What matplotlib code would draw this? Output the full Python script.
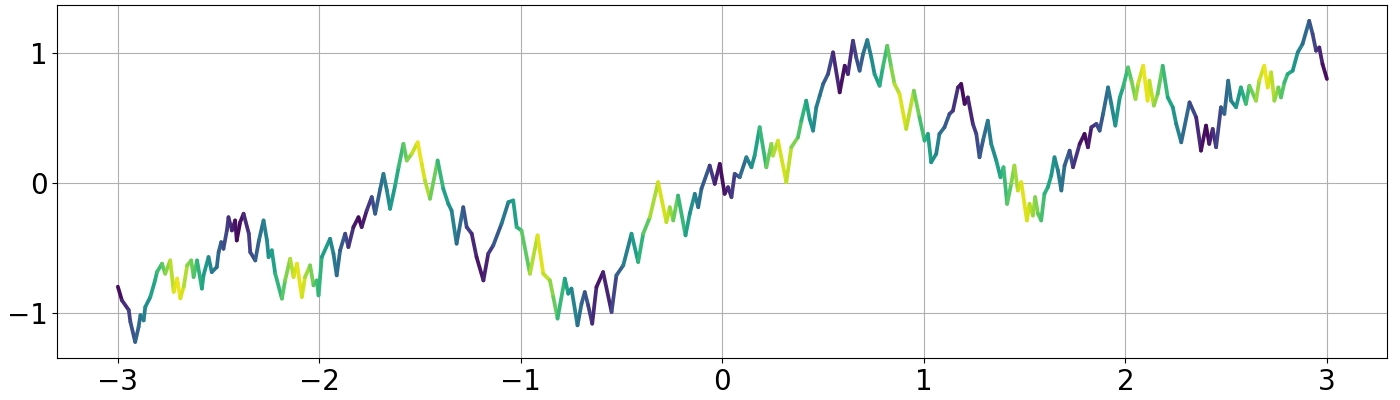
import numpy as np
import matplotlib
matplotlib.use("Agg")
from matplotlib import pyplot as plt
from matplotlib.collections import LineCollection

# curve points (x, y) and the viridis value seen at each point
xs = [-3.0, -2.98, -2.946, -2.938, -2.914, -2.897, -2.888, -2.872, -2.864, -2.839,
      -2.815, -2.806, -2.781, -2.765, -2.74, -2.723, -2.706, -2.69, -2.673, -2.656,
      -2.636, -2.624, -2.607, -2.583, -2.575, -2.55, -2.534, -2.509, -2.5, -2.487,
      -2.476, -2.459, -2.451, -2.434, -2.418, -2.41, -2.393, -2.376, -2.35, -2.343,
      -2.318, -2.3, -2.277, -2.26, -2.252, -2.236, -2.219, -2.186, -2.17, -2.145,
      -2.128, -2.111, -2.087, -2.071, -2.046, -2.029, -2.013, -2.004, -1.988, -1.947,
      -1.93, -1.914, -1.897, -1.872, -1.856, -1.831, -1.806, -1.79, -1.765, -1.74,
      -1.723, -1.698, -1.682, -1.665, -1.649, -1.624, -1.607, -1.583, -1.566, -1.542,
      -1.512, -1.492, -1.476, -1.451, -1.413, -1.385, -1.36, -1.344, -1.319, -1.286,
      -1.269, -1.244, -1.22, -1.186, -1.162, -1.137, -1.096, -1.062, -1.038, -1.021,
      -0.997, -0.955, -0.917, -0.889, -0.856, -0.839, -0.818, -0.782, -0.765, -0.749,
      -0.719, -0.699, -0.683, -0.666, -0.646, -0.625, -0.592, -0.55, -0.526, -0.492,
      -0.451, -0.418, -0.393, -0.36, -0.319, -0.278, -0.261, -0.244, -0.22, -0.183,
      -0.162, -0.137, -0.12, -0.104, -0.063, -0.038, -0.013, 0.011, 0.028, 0.045,
      0.061, 0.086, 0.119, 0.144, 0.16, 0.185, 0.218, 0.243, 0.251, 0.276,
      0.317, 0.342, 0.375, 0.392, 0.416, 0.433, 0.45, 0.466, 0.483, 0.5,
      0.524, 0.549, 0.582, 0.607, 0.623, 0.648, 0.664, 0.681, 0.698, 0.719,
      0.739, 0.755, 0.78, 0.796, 0.818, 0.838, 0.854, 0.879, 0.912, 0.95,
      0.978, 1.003, 1.02, 1.036, 1.061, 1.077, 1.102, 1.127, 1.144, 1.169,
      1.185, 1.202, 1.218, 1.243, 1.26, 1.276, 1.293, 1.317, 1.334, 1.359,
      1.38, 1.395, 1.413, 1.433, 1.449, 1.466, 1.483, 1.511, 1.524, 1.541,
      1.552, 1.566, 1.582, 1.598, 1.615, 1.632, 1.648, 1.665, 1.682, 1.698,
      1.723, 1.74, 1.773, 1.797, 1.814, 1.831, 1.856, 1.872, 1.889, 1.914,
      1.93, 1.95, 1.972, 1.988, 2.013, 2.03, 2.05, 2.063, 2.088, 2.11,
      2.119, 2.141, 2.16, 2.185, 2.21, 2.235, 2.252, 2.277, 2.318, 2.351,
      2.375, 2.4, 2.416, 2.433, 2.45, 2.474, 2.491, 2.51, 2.524, 2.549,
      2.573, 2.598, 2.615, 2.648, 2.664, 2.689, 2.706, 2.723, 2.739, 2.759,
      2.772, 2.789, 2.805, 2.83, 2.855, 2.879, 2.912, 2.929, 2.946, 2.962,
      2.978, 3.0]
ys = [-0.8, -0.905, -0.98, -1.07, -1.226, -1.11, -1.02, -1.06, -0.957, -0.88,
      -0.75, -0.688, -0.623, -0.7, -0.598, -0.84, -0.738, -0.89, -0.8, -0.636,
      -0.598, -0.726, -0.598, -0.815, -0.713, -0.572, -0.688, -0.649, -0.534, -0.457,
      -0.508, -0.367, -0.265, -0.367, -0.29, -0.444, -0.303, -0.238, -0.392, -0.534,
      -0.598, -0.444, -0.29, -0.444, -0.572, -0.52, -0.7, -0.892, -0.752, -0.585,
      -0.726, -0.623, -0.88, -0.726, -0.636, -0.79, -0.752, -0.867, -0.572, -0.431,
      -0.546, -0.713, -0.52, -0.392, -0.495, -0.341, -0.265, -0.341, -0.213, -0.11,
      -0.238, -0.046, 0.069, -0.059, -0.2, -0.021, 0.12, 0.3, 0.172, 0.223,
      0.312, 0.146, 0.018, -0.123, 0.172, -0.046, -0.162, -0.213, -0.469, -0.188,
      -0.341, -0.392, -0.572, -0.752, -0.546, -0.482, -0.315, -0.149, -0.136, -0.341,
      -0.367, -0.7, -0.405, -0.7, -0.752, -0.88, -1.046, -0.738, -0.854, -0.815,
      -1.098, -0.931, -0.842, -0.944, -1.085, -0.803, -0.688, -0.995, -0.713, -0.636,
      -0.392, -0.61, -0.392, -0.265, 0.005, -0.303, -0.188, -0.29, -0.098, -0.405,
      -0.238, -0.085, -0.188, -0.046, 0.133, -0.008, 0.146, -0.085, -0.034, -0.11,
      0.069, 0.043, 0.197, 0.12, 0.21, 0.428, 0.12, 0.3, 0.21, 0.325,
      0.005, 0.274, 0.351, 0.479, 0.633, 0.492, 0.402, 0.582, 0.672, 0.762,
      0.838, 1.005, 0.697, 0.902, 0.838, 1.095, 0.966, 0.864, 0.992, 1.1,
      0.966, 0.838, 0.748, 0.889, 1.056, 0.889, 0.762, 0.685, 0.415, 0.71,
      0.505, 0.325, 0.377, 0.158, 0.223, 0.377, 0.428, 0.531, 0.556, 0.735,
      0.762, 0.608, 0.658, 0.454, 0.377, 0.197, 0.325, 0.479, 0.3, 0.172,
      0.043, 0.12, -0.162, -0.008, 0.133, -0.059, 0.005, -0.29, -0.162, -0.252,
      -0.11, -0.238, -0.29, -0.085, -0.034, 0.056, 0.197, 0.095, -0.059, 0.133,
      0.248, 0.12, 0.3, 0.377, 0.274, 0.428, 0.454, 0.402, 0.531, 0.735,
      0.608, 0.441, 0.658, 0.735, 0.889, 0.787, 0.646, 0.762, 0.902, 0.633,
      0.787, 0.595, 0.685, 0.902, 0.658, 0.582, 0.454, 0.312, 0.62, 0.505,
      0.248, 0.441, 0.3, 0.415, 0.274, 0.582, 0.531, 0.787, 0.633, 0.582,
      0.735, 0.608, 0.748, 0.633, 0.787, 0.902, 0.735, 0.851, 0.633, 0.735,
      0.658, 0.774, 0.838, 0.864, 1.005, 1.07, 1.248, 1.146, 1.018, 1.043,
      0.915, 0.8]
cs = [0.0, 0.07, 0.18, 0.21, 0.29, 0.34, 0.37, 0.43, 0.45, 0.54,
      0.62, 0.65, 0.73, 0.78, 0.87, 0.92, 0.98, 0.97, 0.91, 0.85,
      0.79, 0.75, 0.69, 0.61, 0.58, 0.5, 0.45, 0.36, 0.33, 0.29,
      0.25, 0.2, 0.17, 0.11, 0.06, 0.03, 0.02, 0.08, 0.17, 0.19,
      0.27, 0.33, 0.41, 0.47, 0.49, 0.55, 0.6, 0.71, 0.77, 0.85,
      0.91, 0.96, 0.96, 0.9, 0.82, 0.76, 0.71, 0.68, 0.63, 0.49,
      0.43, 0.38, 0.32, 0.24, 0.19, 0.1, 0.02, 0.03, 0.12, 0.2,
      0.26, 0.34, 0.39, 0.45, 0.5, 0.59, 0.64, 0.72, 0.78, 0.86,
      0.96, 0.97, 0.92, 0.84, 0.71, 0.62, 0.53, 0.48, 0.4, 0.29,
      0.23, 0.15, 0.07, 0.05, 0.13, 0.21, 0.35, 0.46, 0.54, 0.6,
      0.68, 0.82, 0.94, 0.96, 0.85, 0.8, 0.73, 0.61, 0.55, 0.5,
      0.4, 0.33, 0.28, 0.22, 0.15, 0.08, 0.03, 0.17, 0.25, 0.36,
      0.5, 0.61, 0.69, 0.8, 0.94, 0.93, 0.87, 0.81, 0.73, 0.61,
      0.54, 0.46, 0.4, 0.35, 0.21, 0.13, 0.04, 0.04, 0.09, 0.15,
      0.2, 0.29, 0.4, 0.48, 0.53, 0.62, 0.73, 0.81, 0.84, 0.92,
      0.94, 0.86, 0.75, 0.69, 0.61, 0.56, 0.5, 0.45, 0.39, 0.33,
      0.25, 0.17, 0.06, 0.02, 0.08, 0.16, 0.21, 0.27, 0.33, 0.4,
      0.46, 0.52, 0.6, 0.65, 0.73, 0.79, 0.85, 0.93, 0.96, 0.83,
      0.74, 0.66, 0.6, 0.55, 0.46, 0.41, 0.33, 0.24, 0.19, 0.1,
      0.05, 0.01, 0.06, 0.14, 0.2, 0.25, 0.31, 0.39, 0.45, 0.53,
      0.6, 0.65, 0.71, 0.78, 0.83, 0.89, 0.94, 0.96, 0.92, 0.86,
      0.83, 0.78, 0.73, 0.67, 0.62, 0.56, 0.51, 0.45, 0.39, 0.34,
      0.26, 0.2, 0.09, 0.01, 0.05, 0.1, 0.19, 0.24, 0.3, 0.38,
      0.43, 0.5, 0.57, 0.63, 0.71, 0.77, 0.83, 0.88, 0.96, 0.97,
      0.94, 0.86, 0.8, 0.72, 0.63, 0.55, 0.49, 0.41, 0.27, 0.16,
      0.08, 0.0, 0.05, 0.11, 0.17, 0.25, 0.3, 0.37, 0.41, 0.5,
      0.58, 0.66, 0.72, 0.83, 0.88, 0.96, 0.98, 0.92, 0.87, 0.8,
      0.76, 0.7, 0.65, 0.57, 0.48, 0.4, 0.29, 0.24, 0.18, 0.13,
      0.07, 0.0]

x_ticks = [-3, -2, -1, 0, 1, 2, 3]
y_ticks = [-1, 0, 1]

fig, ax = plt.subplots(figsize=(14, 4), dpi=100)
fig.subplots_adjust(left=0.041, right=0.991, top=0.988, bottom=0.105)

pts = np.column_stack([xs, ys])
segs = np.stack([pts[:-1], pts[1:]], axis=1)
seg_c = (np.array(cs[:-1]) + np.array(cs[1:])) / 2

lc = LineCollection(segs, cmap='viridis', linewidths=2.7,
                    capstyle='round', joinstyle='round')
lc.set_array(seg_c)
lc.set_clim(0, 1)
ax.add_collection(lc)
ax.autoscale()

ax.set_xticks(x_ticks)
ax.set_yticks(y_ticks)
ax.tick_params(labelsize=20)
ax.grid(True)
ax.set_axisbelow(True)

plt.savefig("out.png", dpi=100)
